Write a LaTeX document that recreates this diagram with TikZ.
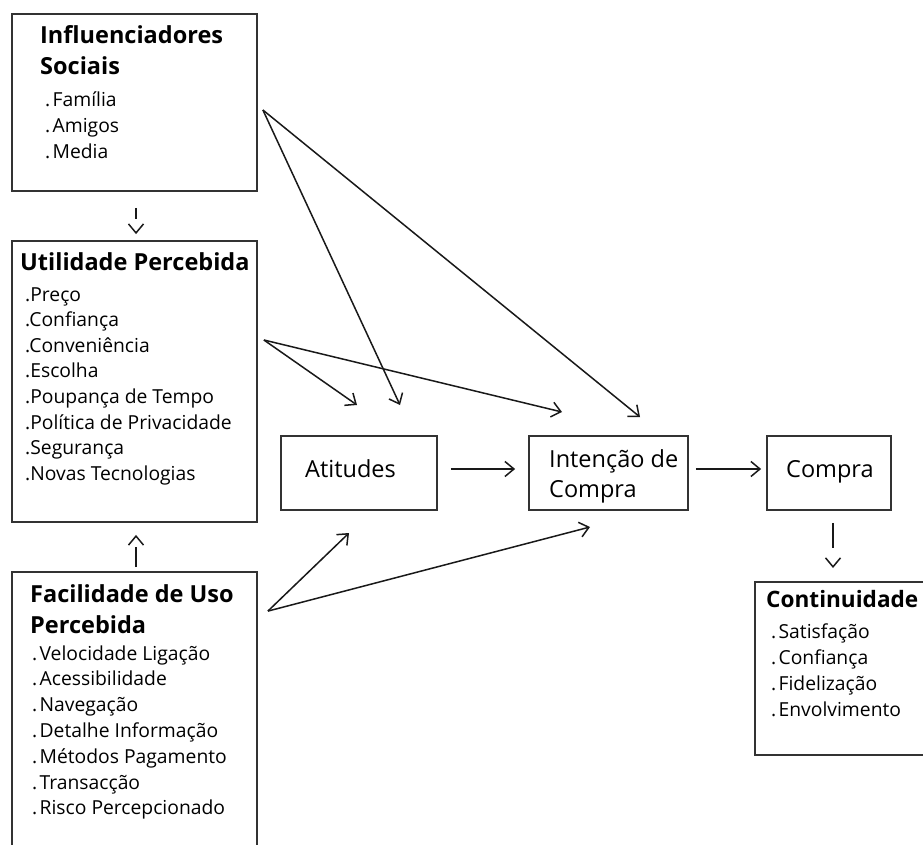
\documentclass[tikz,border=0pt]{standalone}
\usepackage{fontspec}
\setmainfont{Open Sans}
\usetikzlibrary{arrows.meta}
\begin{document}
\begin{tikzpicture}[x=1pt,y=-1pt,
  panel/.style={draw=black!80, line width=1.8pt, inner sep=0pt, fill=none},
  conn/.style={draw=black!90, line width=1.5pt,
    -{Straight Barb[length=9pt,width=15pt,line width=1.5pt]}},
  boxtitle/.style={font=\fontsize{23.5}{26}\selectfont\bfseries, anchor=base west, inner sep=0pt},
  entry/.style={font=\fontsize{19.3}{22}\selectfont, anchor=base west, inner sep=0pt},
  mainlbl/.style={font=\fontsize{23.5}{28}\selectfont, anchor=base west, inner sep=0pt}]
\clip (0,0) rectangle (923,845);
\fill[white] (0,0) rectangle (923,845);

% ---- boxes ----
\node[panel, minimum width=245pt, minimum height=177pt] (soc) at (134.5,102.5) {};
\node[panel, minimum width=245pt, minimum height=281pt] (util) at (134.5,381.5) {};
\node[panel, minimum width=245pt, minimum height=328pt] (fac) at (134.5,736) {};
\node[panel, minimum width=156pt, minimum height=74pt] (att) at (359,473) {};
\node[panel, minimum width=159pt, minimum height=74pt] (int) at (608.5,473) {};
\node[panel, minimum width=124pt, minimum height=74pt] (buy) at (829,473) {};
\node[panel, minimum width=245pt, minimum height=173pt] (cont) at (877.5,668.5) {};

% ---- texts ----
\node[boxtitle] (socT1) at (40,44) {Influenciadores};
\node[boxtitle] (socT2) at (40,75) {Sociais};
\foreach \t [count=\i] in {Família, Amigos, Media}
  \node[entry] (soc\i) at (45,{107+26*(\i-1)}) {.\hspace{0.12em}\t};

\node[boxtitle] (utilT) at (20,270) {Utilidade Percebida};
\foreach \t [count=\i] in {Preço, Confiança, Conveniência, Escolha,
    Poupança de Tempo, Política de Privacidade, Segurança, Novas Tecnologias}
  \node[entry] (util\i) at (25,{301+25.6*(\i-1)}) {.\t};

\node[boxtitle] (facT1) at (30,602) {Facilidade de Uso};
\node[boxtitle] (facT2) at (30,633) {Percebida};
\foreach \t [count=\i] in {Velocidade Ligação, Acessibilidade, Navegação,
    Detalhe Informação, Métodos Pagamento, Transacção, Risco Percepcionado}
  \node[entry] (fac\i) at (32,{660+25.8*(\i-1)}) {.\hspace{0.12em}\t};

\node[mainlbl] (attT) at (305,477) {Atitudes};
\node[mainlbl] (intT1) at (549,467) {Intenção de};
\node[mainlbl] (intT2) at (549,497) {Compra};
\node[mainlbl] (buyT) at (786,477) {Compra};

\node[boxtitle, font=\fontsize{22.6}{26}\selectfont\bfseries] (contT) at (766,607) {Continuidade};
\foreach \t [count=\i] in {Satisfação, Confiança, Fidelização, Envolvimento}
  \node[entry] (cont\i) at (771,{638+26*(\i-1)}) {.\hspace{0.12em}\t};

% ---- free arrow ends ----
\coordinate (attA) at (357,405);
\coordinate (attB) at (400,405);
\coordinate (attC) at (349,533);
\coordinate (intA) at (562,412);
\coordinate (intB) at (640,417);
\coordinate (intC) at (590,527);
\coordinate (contIn) at (833,568);

% ---- connectors ----
\draw[conn] ([xshift=5pt,yshift=-7.5pt]soc.east) -- (attB);
\draw[conn] ([xshift=5pt,yshift=-7.5pt]soc.east) -- (intB);
\draw[conn] ([xshift=6pt,yshift=41.5pt]util.east) -- (attA);
\draw[conn] ([xshift=6pt,yshift=41.5pt]util.east) -- (intA);
\draw[conn] ([xshift=10pt,yshift=-40pt]fac.north east) -- (attC);
\draw[conn] ([xshift=10pt,yshift=-40pt]fac.north east) -- (intC);
\draw[conn] ([xshift=13pt,yshift=4pt]att.east) -- ([xshift=-13pt,yshift=4pt]int.west);
\draw[conn] ([xshift=7pt,yshift=4pt]int.east) -- ([xshift=-5pt,yshift=4pt]buy.west);

\draw[conn, dash pattern=on 11pt off 200pt]
  ([xshift=1.5pt,yshift=-16pt]soc.south) -- ([xshift=1.5pt,yshift=6pt]util.north);
\draw[conn, dash pattern=on 20pt off 200pt]
  ([xshift=1.5pt,yshift=4pt]fac.north) -- ([xshift=1.5pt,yshift=-12pt]util.south);
\draw[conn, dash pattern=on 25pt off 200pt]
  ([xshift=4pt,yshift=-12pt]buy.south) -- (contIn);
\end{tikzpicture}
\end{document}
